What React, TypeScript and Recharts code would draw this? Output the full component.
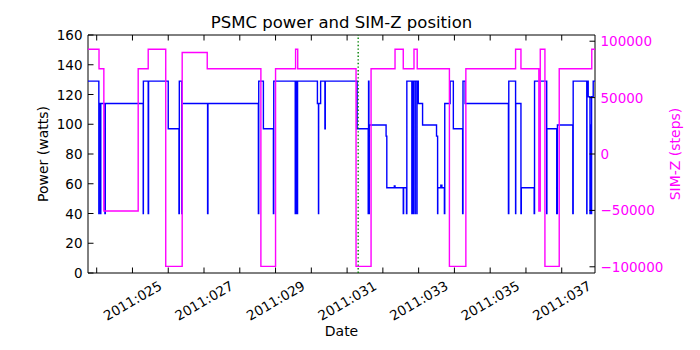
import React, { useEffect } from 'react';
import { ComposedChart, Line, XAxis, YAxis, ReferenceLine, ReferenceArea, Customized } from 'recharts';

// day-of-year 2011 for each step change of PSMC power
const powerDays = [
  23.757, 24.06, 24.07, 24.11, 24.115, 24.23, 24.24, 25.3, 25.305, 25.44, 25.45, 26.0,
  26.3, 26.31, 26.38, 26.385, 27.1, 27.11, 28.52, 28.53, 28.66, 28.94, 28.95,
  29.55, 29.555, 29.58, 29.585, 29.61, 29.615, 30.17, 30.2, 30.205, 30.26, 30.38, 30.39,
  31.28, 31.59, 31.6, 31.61, 31.62, 32.09, 32.11, 32.32, 32.34, 32.57, 32.58,
  32.66, 32.67, 32.81, 32.815, 32.85, 32.855, 32.9, 32.905, 32.95, 32.955, 32.99, 33.11,
  33.5, 33.53, 33.535, 33.62, 33.65, 33.72, 33.73, 33.88, 33.97, 34.23, 34.24, 34.3,
  35.51, 35.52, 35.71, 35.715, 35.86, 35.87, 36.23, 36.24, 36.58, 36.585, 36.86, 36.88,
  37.31, 37.32, 37.7, 37.705, 37.74, 37.79, 37.795, 37.8, 37.805, 37.81, 37.815,
  37.82, 37.825, 37.83, 37.835, 37.88, 37.93,
];
const powerWatts = [
  129, 40, 114, 40, 114, 40, 114, 40, 129, 40, 129, 97,
  40, 129, 40, 114, 40, 114, 40, 129, 97, 40, 129,
  40, 129, 40, 129, 40, 129, 114, 40, 114, 129, 97, 129,
  97, 40, 129, 40, 99.5, 92, 57.3, 58.5, 57.3, 40, 57.3,
  40, 129, 40, 129, 40, 129, 40, 129, 40, 129, 114, 99.5,
  92, 40, 57.3, 59, 57.3, 40, 114, 129, 97, 40, 129, 114,
  40, 129, 40, 114, 40, 57.3, 40, 129, 40, 97, 40, 99.5,
  40, 129, 40, 129, 118.5, 40, 99.5, 40, 99.5, 40, 99.5,
  40, 99.5, 40, 118.5, 129, 129,
];

// SIM-Z translation steps
const simzDays = [
  23.757, 24.065, 24.2, 25.16, 25.44, 25.93, 26.39, 27.09, 28.59, 29.0, 29.56, 29.62,
  31.25, 31.67, 32.34, 32.57, 32.87, 32.96, 33.86, 34.32, 35.71, 35.86, 36.36, 36.4,
  36.53, 36.93, 37.84, 37.93,
];
const simzSteps = [
  92904, 75624, -50504, 75624, 92904, -99616, 90000, 75624, -99616, 75624, 92904, 75624,
  -99616, 75624, 92904, 75624, 92904, 75624, -99616, 75624, 92904, 75624, -50504, 92904,
  -99616, 75624, 92904, 92904,
];

const xTickDays = [24, 25, 26, 27, 28, 29, 30, 31, 32, 33, 34, 35, 36, 37];
const xTickLabels = ['', '2011:025', '', '2011:027', '', '2011:029', '', '2011:031', '', '2011:033', '', '2011:035', '', '2011:037'];
const powerTicks = [0, 20, 40, 60, 80, 100, 120, 140, 160];
const simzTicks = [-100000, -50000, 0, 50000, 100000];
const simzTickLabels = ['\u2212100000', '\u221250000', '0', '50000', '100000'];
const markerDay = 31.31;

const powerData = powerDays.map((t, i) => ({ t, p: powerWatts[i] }));
const simzData = simzDays.map((t, i) => ({ t, z: simzSteps[i] }));

const FONT = '"DejaVu Sans", sans-serif';
const X_MIN = 23.757;
const X_MAX = 37.93;
const TOP = 35;
const TICK = 5.5;

function LeftTick({ x, y, payload }: any) {
  return (
    <g>
      <line x1={x} x2={x + TICK} y1={y} y2={y} stroke="#000" />
      <text x={x - 5.5} y={y} textAnchor="end" dominantBaseline="central" fontSize={13.5} fontFamily={FONT} fill="#000">
        {payload.value}
      </text>
    </g>
  );
}

function RightTick({ x, y, payload }: any) {
  const label = simzTickLabels[simzTicks.indexOf(payload.value)];
  return (
    <g>
      <line x1={x - TICK} x2={x} y1={y} y2={y} stroke="#000" />
      <text x={x + 5.5} y={y} textAnchor="start" dominantBaseline="central" fontSize={13.5} fontFamily={FONT} fill="#ff00ff">
        {label}
      </text>
    </g>
  );
}

function BottomTick({ x, y, payload }: any) {
  const label = xTickLabels[xTickDays.indexOf(payload.value)];
  const cy = y + 27.5;
  return (
    <g>
      <line x1={x} x2={x} y1={y} y2={y - TICK} stroke="#000" />
      <line x1={x} x2={x} y1={TOP} y2={TOP + TICK} stroke="#000" />
      {label ? (
        <text x={x} y={cy} transform={`rotate(-30, ${x}, ${cy})`} textAnchor="middle" dominantBaseline="central" fontSize={13.5} fontFamily={FONT} fill="#000">
          {label}
        </text>
      ) : null}
    </g>
  );
}

function Labels() {
  return (
    <g fontFamily={FONT}>
      <text x={341.5} y={28} textAnchor="middle" fontSize={16.5} fill="#000">PSMC power and SIM-Z position</text>
      <text x={341.5} y={331} textAnchor="middle" dominantBaseline="central" fontSize={14} fill="#000">Date</text>
      <text x={43} y={154} transform="rotate(-90, 43, 154)" textAnchor="middle" dominantBaseline="central" fontSize={14} fill="#000">Power (watts)</text>
      <text x={675} y={154} transform="rotate(-90, 675, 154)" textAnchor="middle" dominantBaseline="central" fontSize={14} fill="#ff00ff">SIM-Z (steps)</text>
    </g>
  );
}

export default function App() {
  useEffect(() => {
    document.body.style.margin = '0';
  }, []);

  return (
    <div style={{ width: 700, height: 350, background: '#fff' }}>
      <ComposedChart width={700} height={350} margin={{ top: 35, right: 0, bottom: 0, left: 0 }} style={{ fontFamily: FONT }}>
        <XAxis
          dataKey="t"
          type="number"
          domain={[X_MIN, X_MAX]}
          allowDataOverflow
          ticks={xTickDays}
          interval={0}
          height={77}
          tickSize={0}
          tickMargin={0}
          tickLine={false}
          axisLine={false}
          tick={<BottomTick />}
        />
        <YAxis
          yAxisId="p"
          domain={[0, 160]}
          ticks={powerTicks}
          interval={0}
          width={88}
          tickSize={0}
          tickMargin={0}
          tickLine={false}
          axisLine={false}
          tick={<LeftTick />}
        />
        <YAxis
          yAxisId="z"
          orientation="right"
          domain={[-105500, 105500]}
          allowDataOverflow
          ticks={simzTicks}
          interval={0}
          width={105}
          tickSize={0}
          tickMargin={0}
          tickLine={false}
          axisLine={false}
          tick={<RightTick />}
        />
        <Line
          yAxisId="p"
          data={powerData}
          dataKey="p"
          type="stepAfter"
          stroke="#0000ff"
          strokeWidth={1.4}
          dot={false}
          activeDot={false}
          isAnimationActive={false}
        />
        <Line
          yAxisId="z"
          data={simzData}
          dataKey="z"
          type="stepAfter"
          stroke="#ff00ff"
          strokeWidth={1.4}
          dot={false}
          activeDot={false}
          isAnimationActive={false}
        />
        <ReferenceLine yAxisId="p" x={markerDay} stroke="#008000" strokeWidth={1.4} strokeDasharray="1.4 2.2" />
        <ReferenceArea yAxisId="p" x1={X_MIN} x2={X_MAX} y1={0} y2={160} fill="none" stroke="#000" strokeWidth={1} />
        <Customized component={Labels} />
      </ComposedChart>
    </div>
  );
}
